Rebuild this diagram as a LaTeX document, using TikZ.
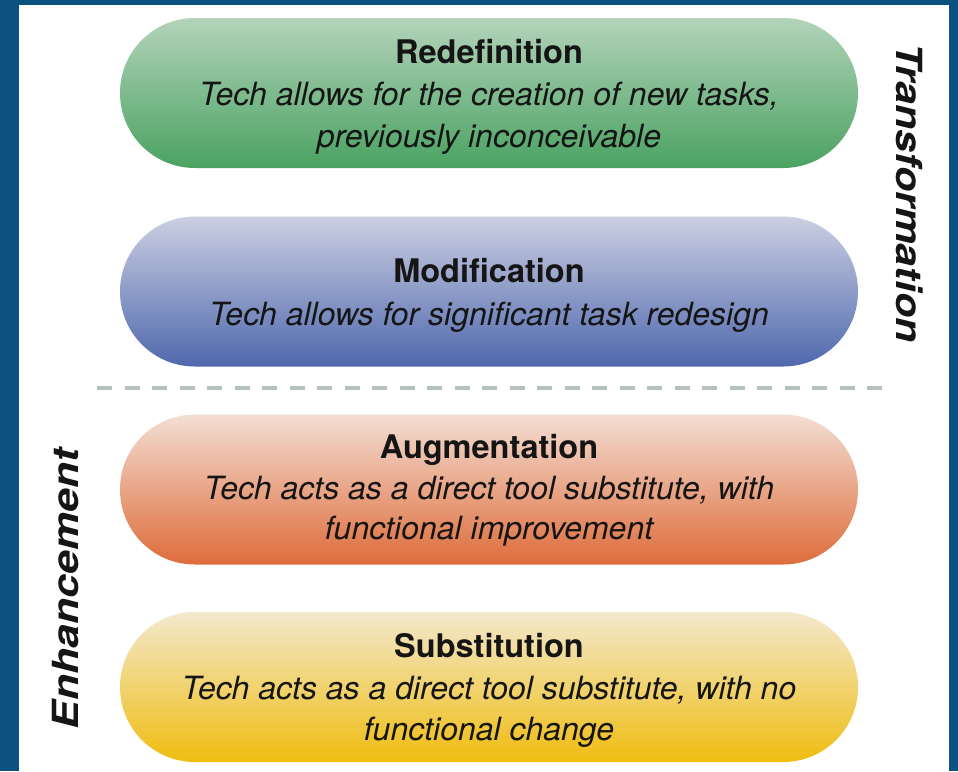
\documentclass[tikz,border=0pt]{standalone}
\usepackage{fontspec}
\setmainfont{TeX Gyre Heros}
\usepackage{graphicx}
\definecolor{frameblue}{HTML}{0C5281}
\definecolor{gtop}{HTML}{B3D3BA}
\definecolor{gbot}{HTML}{4AA262}
\definecolor{btop}{HTML}{CBCFE2}
\definecolor{bbot}{HTML}{4F68AD}
\definecolor{otop}{HTML}{F3DED3}
\definecolor{obot}{HTML}{DE6C3B}
\definecolor{ytop}{HTML}{F3E8CD}
\definecolor{ybot}{HTML}{EFBD10}
\definecolor{dashgray}{HTML}{B5C1BD}
\definecolor{ink}{HTML}{151515}
\tikzset{
  pill/.style={rectangle, rounded corners=74.9pt, minimum width=738pt, minimum height=150pt, inner sep=0pt},
  ttl/.style={anchor=base, inner sep=0pt, text=ink, font=\fontsize{32.5}{36}\selectfont\bfseries},
  dsc/.style={anchor=base, inner sep=0pt, text=ink, font=\fontsize{32}{40}\selectfont\itshape},
  side/.style={inner sep=0pt, text=ink, font=\fontsize{36}{40}\selectfont\bfseries\itshape},
  divider/.style={line width=4.5pt, color=dashgray, dash pattern=on 15pt off 12.5pt}
}
\begin{document}
\begin{tikzpicture}[x=1pt,y=-1pt]
\fill[frameblue] (0,0) rectangle (958,771);
\useasboundingbox (0,0) rectangle (958,771);
\fill[white] (19,5) rectangle (949,771);

\node[pill, top color=gtop, bottom color=gbot] (red) at (489,93) {};
\node[pill, top color=btop, bottom color=bbot] (mod) at (489,291.5) {};
\node[pill, top color=otop, bottom color=obot] (aug) at (489,489.5) {};
\node[pill, top color=ytop, bottom color=ybot] (sub) at (489,687) {};

\node[ttl] (redT) at (489,63) {Redefinition};
\node[dsc] (redD1) at (489,105) {Tech allows for the creation of new tasks,};
\node[dsc] (redD2) at (489,147) {previously inconceivable};

\node[ttl] (modT) at (489,282) {Modification};
\node[dsc] (modD1) at (489,325) {Tech allows for significant task redesign};

\node[ttl] (augT) at (489,458) {Augmentation};
\node[dsc] (augD1) at (489,499) {Tech acts as a direct tool substitute, with};
\node[dsc] (augD2) at (489,539) {functional improvement};

\node[ttl] (subT) at (489,657) {Substitution};
\node[dsc] (subD1) at (489,699) {Tech acts as a direct tool substitute, with no};
\node[dsc] (subD2) at (489,740) {functional change};

\coordinate (dl) at (97,388);
\coordinate (dr) at (882,388);
\draw[divider] (dl) -- (dr);

\node[side, rotate=-90] (trans) at (910,193) {\scalebox{1.15}[1]{Transformation}};
\node[side, rotate=90] (enh) at (65.5,589) {\scalebox{1.19}[1]{Enhancement}};
\end{tikzpicture}
\end{document}
